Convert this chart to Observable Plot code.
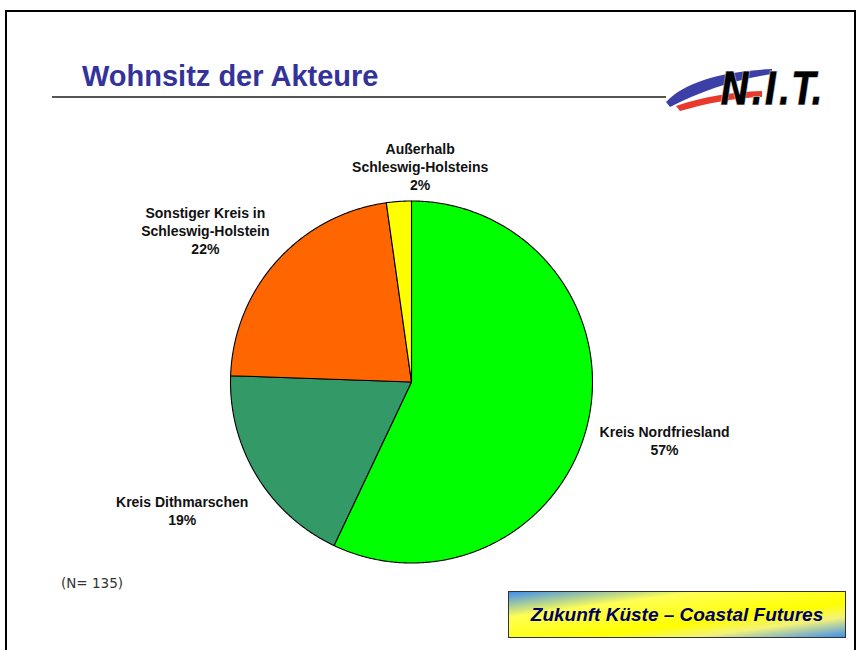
<!DOCTYPE html>
<html><head><meta charset="utf-8">
<script src="https://cdn.jsdelivr.net/npm/d3@7"></script>
<script src="https://cdn.jsdelivr.net/npm/@observablehq/plot@0.6"></script>
<style>
body{margin:0;background:#fff;}
#page{position:relative;width:861px;height:650px;overflow:hidden;font-family:"Liberation Sans",Arial,sans-serif;background:#fff;}
#frame{position:absolute;left:5px;top:10px;width:851px;height:700px;border:2px solid #000;box-sizing:border-box;}
#title{position:absolute;left:82px;top:59.5px;font-family:"Liberation Sans",Arial,sans-serif;font-weight:bold;font-size:29px;line-height:normal;color:#333399;white-space:nowrap;}
#rule{position:absolute;left:52px;top:96px;width:614px;height:2px;background:#555;}
#logo{position:absolute;left:660px;top:50px;overflow:visible;}
#chart{position:absolute;left:0;top:0;}
#n{position:absolute;left:61px;top:575px;font-family:"DejaVu Sans",Verdana,sans-serif;font-size:13.5px;color:#333;}
#box{position:absolute;left:508px;top:591px;width:338px;height:47px;box-sizing:border-box;border:1px solid #333;
  background:linear-gradient(to bottom right,#3d8ff0 0%,#ffff55 28%,#ffff00 62%,#f2f27a 78%,#3d8ff0 100%);
  font-weight:bold;font-style:italic;font-size:19px;color:#000066;text-align:center;line-height:45px;white-space:nowrap;}
</style></head><body>
<div id="page">
  <div id="frame"></div>
  <div id="title">Wohnsitz der Akteure</div>
  <div id="rule"></div>
  <svg id="logo" width="190" height="70" viewBox="0 -10 190 70">
    <path d="M6,42 C24,22 64,11 112,9 L112,14 C74,20 42,31 10,47 Z" fill="#3b3fa6"/>
    <path d="M16,46 C42,37 72,32 102,31 L102,37 C74,38 48,43 20,51 Z" fill="#e8392b"/>
    <text x="60" y="45" font-family="DejaVu Sans, Liberation Sans, Arial, sans-serif" font-weight="bold" font-style="italic" font-size="46" fill="#000" stroke="#fff" stroke-width="0.5" textLength="104" lengthAdjust="spacingAndGlyphs">N.I.T.</text>
  </svg>
  <div id="chart"></div>
  <div id="n">(N= 135)</div>
  <div id="box">Zukunft Küste – Coastal Futures</div>
</div>
<script>
const categories = ["Kreis Nordfriesland", "Kreis Dithmarschen", "Sonstiger Kreis in Schleswig-Holstein", "Außerhalb Schleswig-Holsteins"];
const counts = [77, 25, 30, 3];
const labels = ["Kreis Nordfriesland", "Kreis Dithmarschen", "Sonstiger Kreis in\nSchleswig-Holstein", "Außerhalb\nSchleswig-Holsteins"];
const colors = ["#00ff00", "#339966", "#ff6600", "#ffff00"];
const total = 135;

// label placement (layout, not data): radius factor and angle shift in degrees
const labelLayout = [
  {r: 1.434, shift: 0.2},
  {r: 1.452, shift: 2.1},
  {r: 1.415, shift: -5.6},
  {r: 1.194, shift: 6.3}
];

const rows = categories.map((name, i) => ({name, count: counts[i], label: labels[i], i}));
const arcs = d3.pie().sort(null).value(d => d.count)(rows);

const pts = [];
for (const a of arcs) {
  const n = Math.max(2, Math.ceil((a.endAngle - a.startAngle) / (Math.PI / 360)));
  pts.push({name: a.data.name, x: 0, y: 0});
  for (let k = 0; k <= n; k++) {
    const t = a.startAngle + (a.endAngle - a.startAngle) * k / n;
    pts.push({name: a.data.name, x: Math.sin(t), y: Math.cos(t)});
  }
  pts.push({name: a.data.name, x: 0, y: 0});
}

const pct = d3.format(".0%");
const labelPos = a => {
  const L = labelLayout[a.data.i];
  const t = (a.startAngle + a.endAngle) / 2 + L.shift * Math.PI / 180;
  return {x: L.r * Math.sin(t), y: L.r * Math.cos(t)};
};

const plot = Plot.plot({
  width: 861,
  height: 650,
  marginLeft: 230,
  marginRight: 269,
  marginTop: 200.5,
  marginBottom: 87.5,
  x: {domain: [-1, 1], axis: null},
  y: {domain: [-1, 1], axis: null},
  color: {domain: categories, range: colors},
  style: {fontFamily: "'Liberation Sans', Arial, sans-serif", background: "transparent", overflow: "visible"},
  marks: [
    Plot.line(pts, {x: "x", y: "y", z: "name", fill: "name", stroke: "#000", strokeWidth: 1.1, strokeLinejoin: "round"}),
    Plot.text(arcs, {
      x: a => labelPos(a).x,
      y: a => labelPos(a).y,
      text: a => a.data.label + "\n" + pct(a.data.count / total),
      fontSize: 14,
      fontWeight: "bold",
      lineHeight: 1.29,
      fill: "#111"
    })
  ]
});
document.getElementById("chart").appendChild(plot);
</script>
</body></html>
